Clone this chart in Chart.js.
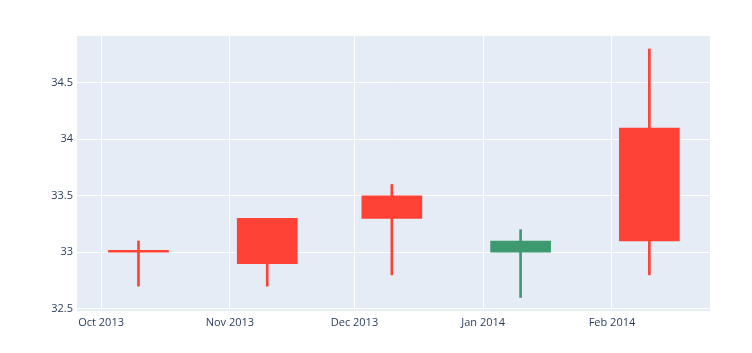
<!DOCTYPE html>
<html>
<head>
<meta charset="utf-8">
<script src="https://cdn.jsdelivr.net/npm/chart.js@4.4.1/dist/chart.umd.min.js"></script>
<style>
  html, body { margin: 0; padding: 0; background: #fff; }
  #wrap { width: 752px; height: 353px; position: relative; }
</style>
</head>
<body>
<div id="wrap"><canvas id="c" width="752" height="353"></canvas></div>
<script>
const dates = ['2013-10-10', '2013-11-10', '2013-12-10', '2014-01-10', '2014-02-10'];
const openVals = [33.0, 33.3, 33.5, 33.0, 34.1];
const highVals = [33.1, 33.3, 33.6, 33.2, 34.8];
const lowVals = [32.7, 32.7, 32.8, 32.6, 32.8];
const closeVals = [33.0, 32.9, 33.3, 33.1, 33.1];
const xTickDates = ['2013-10-01', '2013-11-01', '2013-12-01', '2014-01-01', '2014-02-01'];
const xTickLabels = ['Oct 2013', 'Nov 2013', 'Dec 2013', 'Jan 2014', 'Feb 2014'];
const yTickValues = [32.5, 33, 33.5, 34, 34.5];

const UP = '#3D9970', DOWN = '#FF4136';
const toMs = s => { const [y, m, d] = s.split('-').map(Number); return Date.UTC(y, m - 1, d); };
const DAY = 86400000;
const xs = dates.map(toMs);
const colors = openVals.map((o, i) => closeVals[i] > o ? UP : DOWN);

const wicks = xs.map((x, i) => ({ x, y: [lowVals[i], highVals[i]] }));
const bodies = xs.map((x, i) => ({ x, y: [Math.min(openVals[i], closeVals[i]), Math.max(openVals[i], closeVals[i])] }));

const bgPlugin = {
  id: 'bg',
  beforeDraw(chart) {
    const { ctx, chartArea: a } = chart;
    ctx.save();
    ctx.fillStyle = '#E5ECF6';
    ctx.fillRect(a.left, a.top, a.right - a.left, a.bottom - a.top);
    ctx.restore();
  }
};

const font = { family: '"Open Sans", "Liberation Sans", sans-serif', size: 11 };

new Chart(document.getElementById('c'), {
  type: 'bar',
  data: {
    datasets: [
      { data: wicks, backgroundColor: colors, barThickness: 2, grouped: false, order: 2 },
      { data: bodies, backgroundColor: colors, barThickness: 60, grouped: false, minBarLength: 2, order: 1 }
    ]
  },
  options: {
    responsive: false,
    animation: false,
    layout: { padding: { left: 0, right: 42, top: 36, bottom: 0 } },
    plugins: { legend: { display: false }, tooltip: { enabled: false } },
    scales: {
      x: {
        type: 'linear',
        offset: false,
        min: toMs('2013-10-10') - 14.8 * DAY,
        max: toMs('2014-02-10') + 14.6 * DAY,
        grid: { color: '#ffffff', lineWidth: 1, drawTicks: false, offset: false },
        border: { display: false },
        afterBuildTicks(scale) { scale.ticks = xTickDates.map(d => ({ value: toMs(d) })); },
        ticks: {
          font, color: '#2a3f5f', padding: 5, maxRotation: 0, autoSkip: false,
          callback(v) { const i = xTickDates.map(toMs).indexOf(v); return i >= 0 ? xTickLabels[i] : ''; }
        },
        afterFit(scale) { scale.height = 42; }
      },
      y: {
        type: 'linear',
        min: 32.48,
        max: 34.915,
        grid: { color: '#ffffff', lineWidth: 1, drawTicks: false },
        border: { display: false },
        afterBuildTicks(scale) { scale.ticks = yTickValues.map(v => ({ value: v })); },
        ticks: { font, color: '#2a3f5f', padding: 4, callback: v => String(v) },
        afterFit(scale) { scale.width = 77; }
      }
    }
  },
  plugins: [bgPlugin]
});
</script>
</body>
</html>
